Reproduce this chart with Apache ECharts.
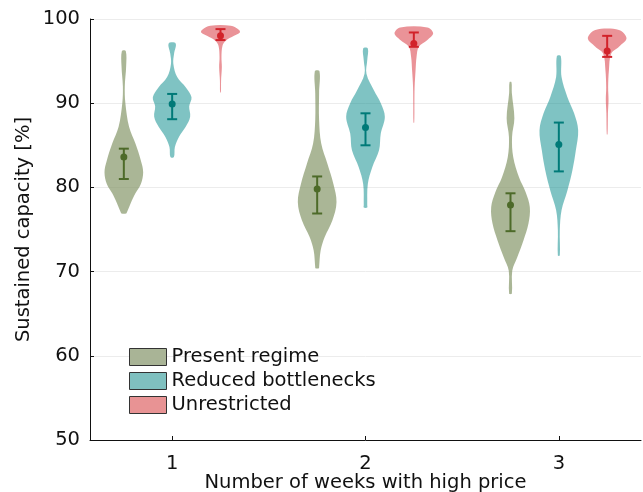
<!DOCTYPE html>
<html><head><meta charset="utf-8">
<script src="https://cdn.jsdelivr.net/npm/echarts@6/dist/echarts.min.js"></script>
<style>html,body{margin:0;padding:0;background:#fff}#chart{width:643px;height:492px}</style>
</head><body><div id="chart"></div>
<script>
const weeks = [1, 2, 3];
const seriesNames = ['Present regime', 'Reduced bottlenecks', 'Unrestricted'];
const yTicks = [50, 60, 70, 80, 90, 100];

// Mean and error-bar ends per week
const presentMean = [83.6, 79.8, 77.9];
const presentLow = [81.0, 76.9, 74.8];
const presentHigh = [84.6, 81.3, 79.3];

const reducedMean = [89.9, 87.1, 85.1];
const reducedLow = [88.1, 85.0, 81.9];
const reducedHigh = [91.1, 88.8, 87.7];

const unrestrictedMean = [98.0, 97.1, 96.2];
const unrestrictedLow = [97.5, 96.7, 95.5];
const unrestrictedHigh = [98.8, 98.4, 98.0];

// Density profiles: [capacity %, relative density], one list per week
const presentDensity = [
  [[96.2,0.10],[94.4,0.12],[92.0,0.05],[90.0,0.08],[87.2,0.27],[85.2,0.60],[83.2,0.88],[81.8,1.00],[80.4,0.88],[79.3,0.60],[78.1,0.35],[77.0,0.15],[76.9,0.12]],
  [[93.8,0.12],[91.2,0.10],[88.0,0.10],[85.2,0.21],[82.8,0.53],[80.4,0.84],[78.25,1.00],[76.1,0.79],[74.1,0.39],[72.5,0.18],[70.5,0.10],[70.4,0.09]],
  [[92.5,0.05],[91.2,0.07],[88.2,0.20],[86.0,0.08],[83.6,0.14],[81.2,0.44],[79.4,0.79],[77.65,1.00],[75.7,0.93],[73.7,0.67],[71.7,0.35],[70.1,0.09],[67.4,0.07]]
];
const reducedDensity = [
  [[97.1,0.18],[95.9,0.10],[94.7,0.06],[93.1,0.26],[91.9,0.70],[90.7,1.00],[89.6,0.88],[88.4,0.93],[87.2,0.70],[86.0,0.35],[84.8,0.14],[83.6,0.09]],
  [[96.5,0.12],[95.1,0.09],[93.5,0.05],[91.5,0.44],[90.0,0.79],[88.4,1.00],[86.4,0.79],[84.4,0.70],[82.4,0.35],[80.4,0.12],[77.9,0.09],[77.6,0.09]],
  [[95.6,0.10],[93.1,0.14],[90.75,0.44],[88.8,0.79],[86.8,1.00],[84.4,0.88],[82.0,0.70],[79.6,0.44],[77.3,0.14],[74.9,0.05],[71.9,0.05]]
];
const unrestrictedDensity = [
  [[99.2,0.53],[98.7,0.96],[98.4,1.00],[98.0,0.70],[97.4,0.26],[96.8,0.10],[95.5,0.05],[94.3,0.07],[92.7,0.03],[91.3,0.02]],
  [[99.0,0.70],[98.3,1.00],[97.5,0.70],[96.7,0.26],[95.5,0.14],[93.9,0.09],[91.9,0.04],[90.0,0.03],[87.7,0.02]],
  [[98.7,0.61],[97.7,1.00],[96.7,0.61],[95.9,0.21],[93.9,0.09],[91.9,0.05],[90.4,0.07],[88.8,0.04],[86.3,0.02]]
];

const groups = [
  { name: seriesNames[0], offset: -0.25, fill: 'rgba(130,148,100,0.68)', swatch: '#a9b496', stroke: '#4d6a29',
    mean: presentMean, low: presentLow, high: presentHigh, density: presentDensity },
  { name: seriesNames[1], offset: 0, fill: 'rgba(0,136,136,0.5)', swatch: '#7fc0bf', stroke: '#007a78',
    mean: reducedMean, low: reducedLow, high: reducedHigh, density: reducedDensity },
  { name: seriesNames[2], offset: 0.25, fill: 'rgba(214,40,50,0.5)', swatch: '#e89394', stroke: '#d2222a',
    mean: unrestrictedMean, low: unrestrictedLow, high: unrestrictedHigh, density: unrestrictedDensity }
];

const HALF_WIDTH = 0.1; // violin half-width in x units at peak density
const FONT = 'DejaVu Sans';
const FS = 19.5;

function makeRenderer(g) {
  return function (params, api) {
    const i = api.value(0);
    const xc = weeks[i] + g.offset;
    const prof = g.density[i];
    const unit = api.size([HALF_WIDTH, 0])[0];
    const right = [], left = [];
    prof.forEach(function (p) {
      const c = api.coord([xc, p[0]]);
      right.push([c[0] + unit * p[1], c[1]]);
      left.push([c[0] - unit * p[1], c[1]]);
    });
    const pts = right.concat(left.reverse());
    const top = api.coord([xc, g.high[i]]);
    const bot = api.coord([xc, g.low[i]]);
    const mid = api.coord([xc, g.mean[i]]);
    const cap = 5;
    const ls = { stroke: g.stroke, lineWidth: 2 };
    return {
      type: 'group',
      children: [
        { type: 'polygon', shape: { points: pts, smooth: 0.35 }, style: { fill: g.fill } },
        { type: 'line', shape: { x1: top[0], y1: top[1], x2: bot[0], y2: bot[1] }, style: ls },
        { type: 'line', shape: { x1: top[0] - cap, y1: top[1], x2: top[0] + cap, y2: top[1] }, style: ls },
        { type: 'line', shape: { x1: bot[0] - cap, y1: bot[1], x2: bot[0] + cap, y2: bot[1] }, style: ls },
        { type: 'circle', shape: { cx: mid[0], cy: mid[1], r: 3.5 }, style: { fill: g.stroke } }
      ]
    };
  };
}

const chart = echarts.init(document.getElementById('chart'), null, { renderer: 'canvas' });
chart.setOption({
  animation: false,
  backgroundColor: '#fff',
  textStyle: { fontFamily: FONT },
  grid: { left: 90, right: 2, top: 19, bottom: 52, containLabel: false, outerBoundsMode: 'none' },
  legend: {
    orient: 'vertical', left: 129, top: 347, padding: 0, itemWidth: 37, itemHeight: 17, itemGap: 4,
    textStyle: { fontFamily: FONT, fontSize: FS, color: '#111', lineHeight: 17 },
    data: groups.map(function (g) {
      return { name: g.name, icon: 'rect', itemStyle: { color: g.swatch, borderColor: '#333', borderWidth: 1 } };
    })
  },
  xAxis: {
    type: 'value', min: 0.575, max: 3.425,
    name: 'Number of weeks with high price', nameLocation: 'middle', nameGap: 33, nameMoveOverlap: false,
    nameTextStyle: { fontFamily: FONT, fontSize: FS, color: '#111' },
    axisLine: { onZero: false, lineStyle: { color: '#111', width: 1 } },
    axisTick: { show: true, inside: true, length: 4, customValues: weeks, lineStyle: { color: '#111' } },
    axisLabel: { customValues: weeks, fontFamily: FONT, fontSize: FS, color: '#111', margin: 14 },
    splitLine: { show: false }
  },
  yAxis: {
    type: 'value', min: yTicks[0], max: yTicks[yTicks.length - 1], interval: 10,
    name: 'Sustained capacity [%]', nameLocation: 'middle', nameGap: 56, nameMoveOverlap: false,
    nameTextStyle: { fontFamily: FONT, fontSize: FS, color: '#111' },
    axisLine: { show: true, lineStyle: { color: '#111', width: 1 } },
    axisTick: { show: true, inside: true, length: 4, lineStyle: { color: '#111' } },
    axisLabel: { fontFamily: FONT, fontSize: FS, color: '#111', margin: 10 },
    splitLine: { show: true, lineStyle: { color: '#ececec', width: 1 } }
  },
  series: groups.map(function (g) {
    return {
      type: 'custom', name: g.name,
      itemStyle: { color: g.swatch },
      renderItem: makeRenderer(g),
      encode: { x: 0, y: 1 },
      data: weeks.map(function (w, i) { return [i, g.mean[i]]; }),
      z: 2
    };
  })
});
</script>
</body></html>
